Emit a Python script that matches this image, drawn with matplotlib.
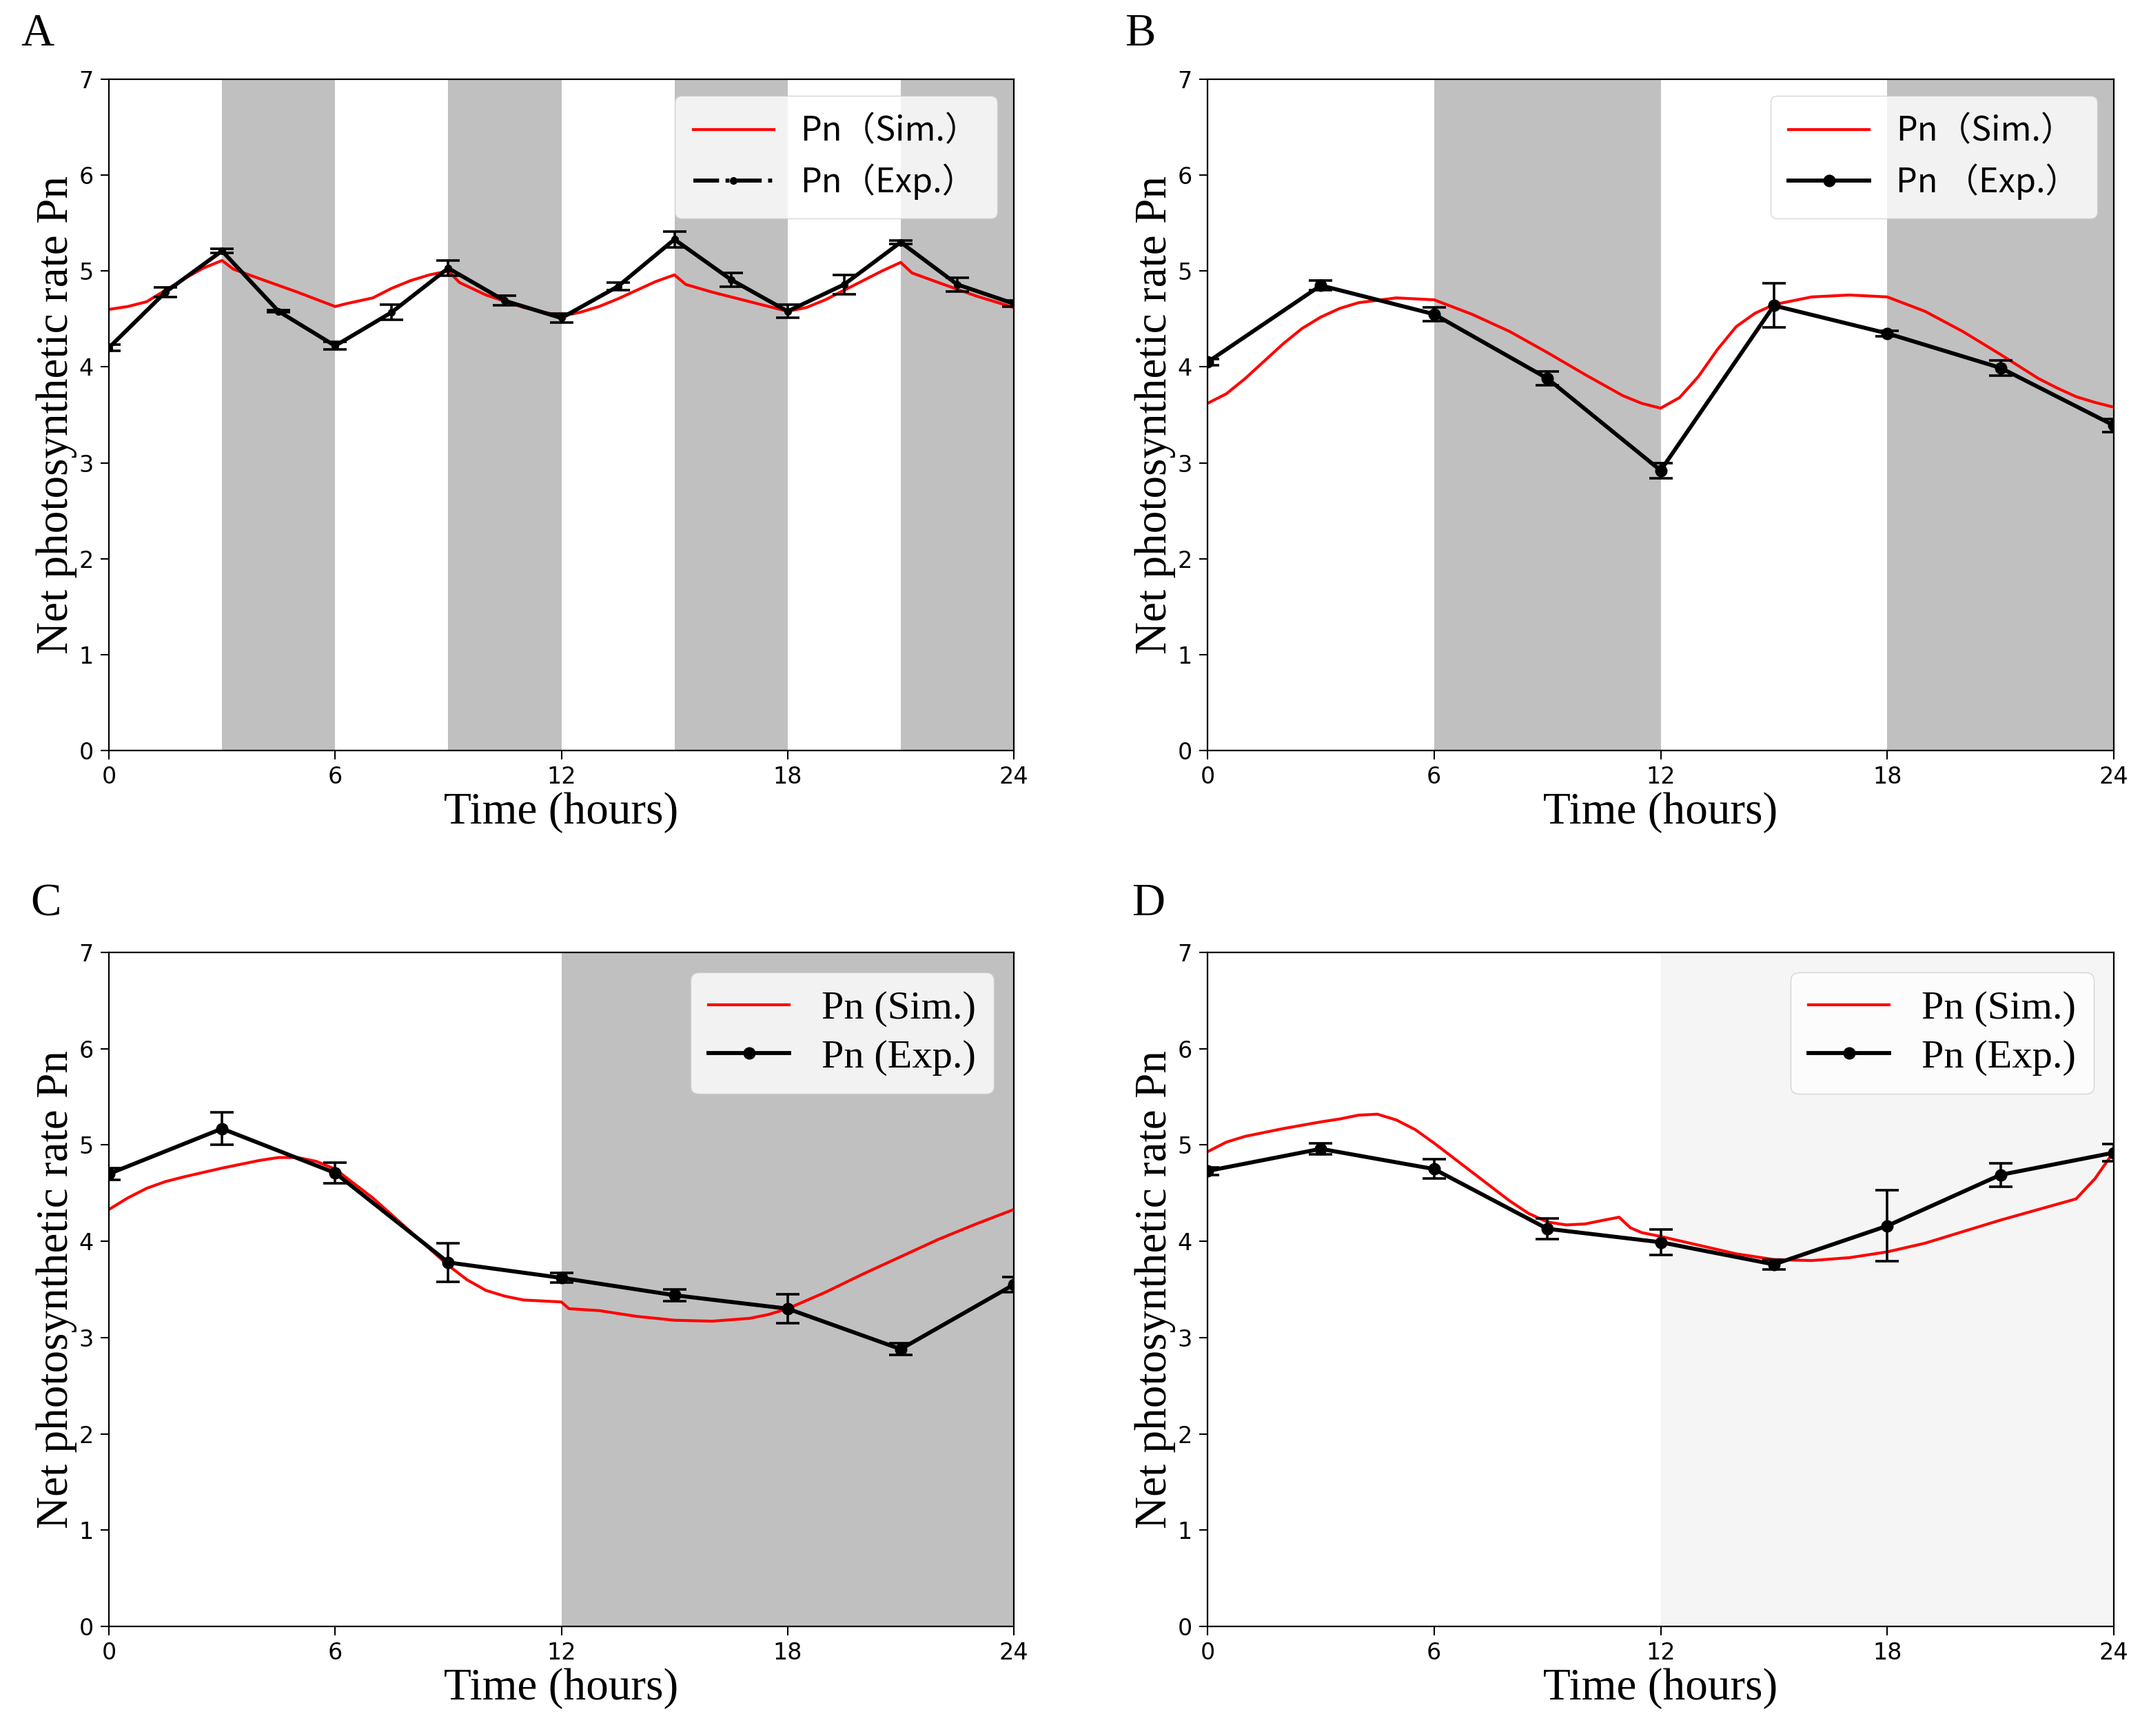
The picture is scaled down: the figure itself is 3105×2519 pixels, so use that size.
import matplotlib
matplotlib.use('Agg')
import matplotlib.pyplot as plt
from matplotlib.lines import Line2D

# ---- data ----
hours_a = [0, 1.5, 3, 4.5, 6, 7.5, 9, 10.5, 12, 13.5, 15, 16.5, 18, 19.5, 21, 22.5, 24]
exp_a = [4.20, 4.78, 5.21, 4.58, 4.22, 4.57, 5.03, 4.69, 4.51, 4.84, 5.33, 4.91, 4.58, 4.86, 5.30, 4.86, 4.66]
err_a = [0.03, 0.05, 0.02, 0.01, 0.04, 0.08, 0.08, 0.05, 0.05, 0.04, 0.08, 0.07, 0.07, 0.10, 0.02, 0.07, 0.03]
sim_t_a = [0, 0.5, 1, 1.5, 2, 2.5, 3, 3.3, 4, 5, 6, 6.3, 7, 7.5, 8, 8.5, 9, 9.3, 10, 11, 12,
           12.5, 13, 13.5, 14, 14.5, 15, 15.3, 16, 17, 18, 18.5, 19, 19.5, 20, 20.5, 21, 21.3, 22, 23, 24]
sim_a = [4.60, 4.63, 4.68, 4.80, 4.92, 5.03, 5.11, 5.02, 4.92, 4.78, 4.63, 4.66, 4.72, 4.82, 4.90, 4.96, 5.00,
         4.88, 4.75, 4.62, 4.53, 4.57, 4.63, 4.71, 4.80, 4.89, 4.96, 4.86, 4.78, 4.68, 4.58, 4.62, 4.70,
         4.80, 4.90, 5.00, 5.09, 4.98, 4.88, 4.74, 4.62]
dark_a = [(3, 6), (9, 12), (15, 18), (21, 24)]

hours_3h = [0, 3, 6, 9, 12, 15, 18, 21, 24]

exp_b = [4.05, 4.85, 4.55, 3.88, 2.92, 4.64, 4.35, 3.99, 3.39]
err_b = [0.03, 0.05, 0.07, 0.07, 0.08, 0.23, 0.03, 0.08, 0.07]
sim_t_b = [0, 0.5, 1, 1.5, 2, 2.5, 3, 3.5, 4, 5, 6, 7, 8, 9, 10, 10.5, 11, 11.5, 12, 12.5, 13, 13.5,
           14, 14.5, 15, 16, 17, 18, 19, 20, 21, 22, 22.5, 23, 23.5, 24]
sim_b = [3.62, 3.72, 3.88, 4.06, 4.24, 4.40, 4.52, 4.61, 4.67, 4.72, 4.70, 4.55, 4.37, 4.15, 3.92,
         3.81, 3.70, 3.62, 3.57, 3.68, 3.90, 4.18, 4.42, 4.56, 4.65, 4.73, 4.75, 4.73, 4.58, 4.37,
         4.13, 3.88, 3.78, 3.69, 3.63, 3.58]
dark_b = [(6, 12), (18, 24)]

exp_c = [4.70, 5.17, 4.71, 3.78, 3.62, 3.44, 3.30, 2.88, 3.55]
err_c = [0.06, 0.17, 0.11, 0.20, 0.05, 0.06, 0.15, 0.06, 0.08]
sim_t_c = [0, 0.5, 1, 1.5, 2, 3, 4, 4.5, 5, 5.5, 6, 7, 8, 9, 9.5, 10, 10.5, 11, 12, 12.2, 13, 14, 15,
           16, 17, 17.5, 18, 19, 20, 21, 22, 23, 24]
sim_c = [4.33, 4.45, 4.55, 4.62, 4.67, 4.76, 4.84, 4.87, 4.87, 4.83, 4.75, 4.45, 4.10, 3.75, 3.60,
         3.49, 3.43, 3.39, 3.37, 3.30, 3.28, 3.22, 3.18, 3.17, 3.20, 3.24, 3.30, 3.47, 3.66, 3.84,
         4.02, 4.18, 4.33]
dark_c = [(12, 24)]

exp_d = [4.73, 4.96, 4.75, 4.13, 3.99, 3.76, 4.16, 4.69, 4.92]
err_d = [0.04, 0.06, 0.10, 0.11, 0.13, 0.05, 0.37, 0.12, 0.09]
sim_t_d = [0, 0.5, 1, 1.5, 2, 3, 3.5, 4, 4.5, 5, 5.5, 6, 7, 8, 8.5, 9, 9.5, 10, 10.5, 10.9, 11.2, 11.5,
           12, 13, 14, 15, 16, 17, 18, 19, 20, 21, 22, 23, 23.5, 24]
sim_d = [4.93, 5.03, 5.09, 5.13, 5.17, 5.24, 5.27, 5.31, 5.32, 5.26, 5.16, 5.02, 4.72, 4.42, 4.29,
         4.20, 4.17, 4.18, 4.22, 4.25, 4.14, 4.09, 4.05, 3.96, 3.87, 3.81, 3.80, 3.83, 3.89, 3.98,
         4.10, 4.22, 4.33, 4.44, 4.65, 4.93]
dark_d = [(12, 24)]

SERIF = ['Liberation Serif', 'DejaVu Serif']
TICKFONT = ['DejaVu Sans']
CJK = ['Noto Sans CJK SC', 'DejaVu Sans']

W, H = 3105, 2519
fig = plt.figure(figsize=(W / 100, H / 100), dpi=100)

# axes boxes in pixels: left, top, right, bottom
boxes = {
    'A': (158, 115, 1471, 1089),
    'B': (1752, 115, 3067, 1089),
    'C': (158, 1382, 1471, 2360),
    'D': (1752, 1382, 3067, 2360),
}
letter_pos = {'A': (30, 50), 'B': (1632, 50), 'C': (44, 1312), 'D': (1642, 1312)}


def make_axes(key):
    l, t, r, b = boxes[key]
    ax = fig.add_axes([l / W, 1 - b / H, (r - l) / W, (b - t) / H])
    ax.set_xlim(0, 24)
    ax.set_ylim(0, 7)
    ax.set_xticks([0, 6, 12, 18, 24])
    ax.set_yticks(range(8))
    ax.tick_params(length=9, width=1.5, labelsize=24, pad=7)
    for lab in ax.get_xticklabels() + ax.get_yticklabels():
        lab.set_family(TICKFONT)
    for sp in ax.spines.values():
        sp.set_linewidth(1.6)
    ax.set_xlabel('Time (hours)', family=SERIF, fontsize=47, labelpad=4)
    ax.set_ylabel('Net photosynthetic rate Pn', family=SERIF, fontsize=47, labelpad=2)
    fig.text(letter_pos[key][0] / W, 1 - letter_pos[key][1] / H, key, family=SERIF,
             fontsize=48, ha='left', va='center')
    return ax


def draw(ax, dark, shade, sim_t, sim, hours, exp, err, ms):
    for a, b in dark:
        ax.axvspan(a, b, color=shade, lw=0, zorder=0)
    sim_line, = ax.plot(sim_t, sim, color='red', lw=3.0, zorder=2)
    ax.errorbar(hours, exp, yerr=err, color='black', lw=4.2, marker='o', ms=ms,
                capsize=12, elinewidth=2.6, capthick=2.6, zorder=3)
    return sim_line


# A
ax = make_axes('A')
draw(ax, dark_a, '#c0c0c0', sim_t_a, sim_a, hours_a, exp_a, err_a, 7)
handles = [Line2D([0], [0], color='red', lw=3.0),
           Line2D([0], [0], color='black', lw=4.2, ls='-.', marker='o', ms=7)]
ax.legend(handles, ['Pn（Sim.）', 'Pn（Exp.）'], loc='upper right', prop={'family': CJK, 'size': 35},
          handlelength=2.4, labelspacing=0.45, borderpad=0.55)

# B
ax = make_axes('B')
draw(ax, dark_b, '#c0c0c0', sim_t_b, sim_b, hours_3h, exp_b, err_b, 12)
handles = [Line2D([0], [0], color='red', lw=3.0),
           Line2D([0], [0], color='black', lw=4.2, marker='o', ms=12)]
ax.legend(handles, ['Pn（Sim.）', 'Pn （Exp.）'], loc='upper right', prop={'family': CJK, 'size': 35},
          handlelength=2.4, labelspacing=0.45, borderpad=0.55)

# C
ax = make_axes('C')
draw(ax, dark_c, '#c0c0c0', sim_t_c, sim_c, hours_3h, exp_c, err_c, 12)
ax.legend(handles, ['Pn (Sim.)', 'Pn (Exp.)'], loc='upper right', prop={'family': SERIF, 'size': 42},
          handlelength=2.0, labelspacing=0.3, borderpad=0.45)

# D
ax = make_axes('D')
draw(ax, dark_d, '#f5f5f5', sim_t_d, sim_d, hours_3h, exp_d, err_d, 12)
ax.legend(handles, ['Pn (Sim.)', 'Pn (Exp.)'], loc='upper right', prop={'family': SERIF, 'size': 42},
          handlelength=2.0, labelspacing=0.3, borderpad=0.45)

fig.savefig('out.png', dpi=100)
